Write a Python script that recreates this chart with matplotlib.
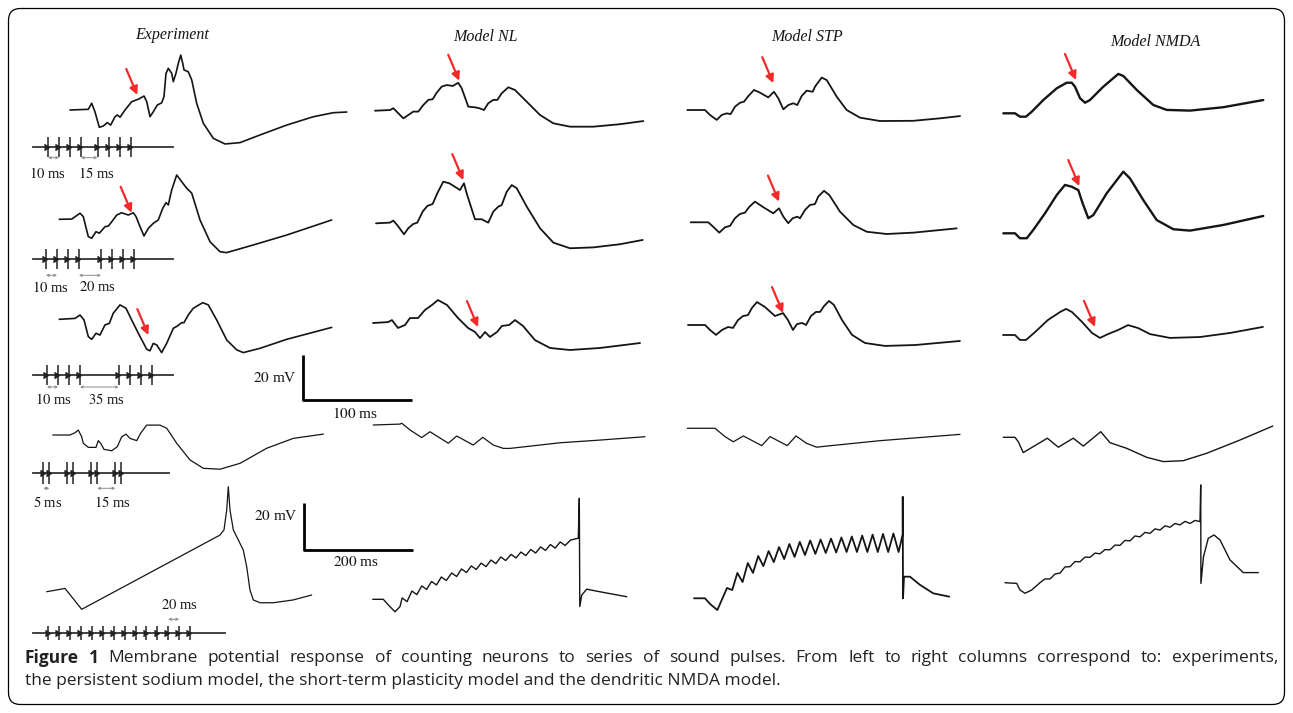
import matplotlib.pyplot as plt
from matplotlib.transforms import Affine2D
from matplotlib.patches import FancyBboxPatch

plt.rcParams['mathtext.fontset'] = 'stix'
plt.rcParams['font.family'] = ['Liberation Serif', 'DejaVu Serif']

# ---------------- data: membrane potential traces (t in ms, v in mV from rest) -------------

# Experiment column
EXP1_T = [0, 16.8, 19.9, 22.9, 26.9, 30.6, 34.2, 37.3, 41.3, 43.4, 45.9, 50.5, 56.6, 62.7, 67.9, 70.4,
          73.4, 76.4, 80.1, 84.1, 86.2, 88.1, 90.2, 93.3, 94.8, 97.2, 99.4, 101.6, 103.4, 104.6, 108.5,
          111.7, 116.2, 122.3, 131.5, 142.2, 156.0, 174.3, 198.8, 223.2, 241.6, 253.9]
EXP1_V = [0, 0.3, 3.0, -0.8, -7.7, -7.1, -5.6, -6.7, -3.0, -2.2, -3.2, 0, 3.7, 4.8, 6.2, 3.7,
          -3.0, -0.8, 2.2, 3.2, 5.9, 16.3, 18.5, 16.3, 12.6, 16.3, 20.8, 24.4, 20.8, 17.8, 17.0,
          13.3, 3.0, -5.9, -12.6, -15.1, -14.5, -11.1, -6.7, -3.0, -1.2, -0.9]

EXP2_T = [0, 11.4, 19.0, 22.0, 26.6, 29.7, 33.7, 36.7, 41.9, 45.0, 48.1, 52.7, 57.2, 63.3, 67.9, 70.4,
          73.4, 77.7, 81.7, 86.2, 90.8, 94.9, 97.9, 100.0, 103.1, 107.7, 112.3, 116.9, 121.5, 129.1,
          138.3, 147.4, 153.6, 178.0, 208.6, 249.9]
EXP2_V = [0, 0.1, 2.7, 1.2, -7.7, -8.4, -5.5, -6.2, -3.3, -3.0, -1.1, 1.9, 2.9, 1.9, 2.9, 1.2,
          -2.5, -7.4, -4.0, -1.8, -0.3, 4.9, 7.4, 6.4, 13.0, 19.7, 16.7, 13.8, 11.6, -0.3,
          -10.0, -14.4, -14.8, -11.4, -7.0, -0.3]

EXP3_T = [0, 14.4, 19.0, 22.7, 26.6, 29.7, 33.7, 37.3, 41.9, 45.9, 49.5, 55.7, 61.2, 66.4, 72.5, 80.2,
          83.2, 86.2, 89.4, 93.9, 98.5, 104.6, 108.3, 112.3, 114.4, 118.3, 122.9, 131.6, 136.7, 144.4,
          153.6, 162.8, 168.8, 184.1, 208.6, 249.9]
EXP3_V = [0, 0.4, 1.9, -0.3, -7.7, -8.9, -6.2, -7.0, -2.5, -1.8, 2.7, 6.4, 4.9, -0.3, -6.2, -13.3,
          -14.0, -10.7, -11.4, -14.8, -10.7, -4.0, -3.0, -1.5, -1.5, 1.9, 4.9, 7.4, 6.4, -0.3,
          -9.2, -13.6, -14.8, -12.9, -8.9, -3.6]

EXP4_T = [0, 15.9, 20.5, 23.5, 26.6, 28.1, 32.7, 39.7, 41.8, 44.0, 47.1, 54.1, 59.3, 63.3, 67.2, 70.9,
          77.1, 80.7, 86.2, 98.4, 104.6, 113.8, 126.0, 138.2, 153.5, 171.8, 196.3, 220.7, 248.3]
EXP4_V = [0, 0, 1.0, 2.2, -0.8, -3.7, -5.5, -5.5, -2.5, -3.7, -6.4, -7.0, -5.2, -0.8, 0.4, -1.5,
          -2.5, 0.8, 4.4, 4.4, 3.0, -3.7, -11.1, -14.8, -15.2, -12.6, -5.9, -1.5, 0.4]

EXP5_T = [0, 24.4, 33.6, 64.2, 318.0, 325.3, 330.3, 333.2, 336.3, 342.4, 351.6, 360.7, 367.0, 373.0,
          379.1, 391.4, 415.8, 452.5, 486.2]
EXP5_V = [0, 1.0, 1.4, -7.5, 24.1, 26.3, 34.8, 44.7, 34.8, 26.3, 22.0, 17.7, 10.6, 0.7,
          -3.5, -4.7, -4.7, -3.5, -1.4]

# Model NL column
NL1_T = [0, 13.8, 16.8, 19.9, 26.0, 30.6, 35.1, 39.7, 44.3, 48.9, 52.9, 56.6, 61.2, 65.8, 71.3, 76.4,
         79.5, 85.6, 91.7, 95.7, 100.0, 103.9, 108.5, 112.2, 116.2, 122.3, 128.4, 139.2, 151.4, 163.6,
         178.9, 200.3, 224.8, 246.2]
NL1_V = [0, 0.3, 1.1, -0.4, -3.4, -1.9, -0.4, -0.4, 2.5, 4.8, 5.1, 8.0, 10.7, 11.4, 11.0, 12.4,
         10.0, 1.8, 1.5, 1.1, 0.3, 3.3, 4.8, 4.8, 7.7, 10.4, 9.2, 4.0, -1.9, -5.6,
         -7.1, -7.1, -6.0, -4.6]

NL2_T = [0, 12.8, 15.9, 19.5, 25.7, 29.6, 34.2, 37.9, 42.8, 47.1, 52.0, 56.2, 61.7, 67.2, 77.1, 80.7,
         83.2, 90.8, 96.9, 103.0, 107.6, 112.2, 115.3, 119.9, 124.5, 129.1, 138.3, 150.5, 162.7, 178.0,
         199.4, 223.9, 244.7]
NL2_V = [0, 0.3, 1.2, -0.8, -4.9, -2.2, -0.3, 0.3, 5.2, 7.7, 8.6, 13.3, 18.5, 17.8, 14.8, 17.8,
         13.3, 1.8, 1.8, 0.3, 5.2, 7.4, 8.1, 14.0, 17.0, 15.6, 7.4, -2.2, -8.6, -11.1,
         -10.7, -9.3, -7.4]

NL3_T = [0, 13.8, 17.4, 22.9, 29.4, 33.9, 41.3, 47.7, 54.1, 59.6, 67.9, 78.0, 87.2, 93.6, 98.2, 102.8,
         107.3, 113.8, 118.3, 124.8, 130.3, 137.6, 148.6, 162.4, 180.7, 208.3, 245.0]
NL3_V = [0, 0.4, 1.3, -2.2, -0.9, 2.2, 2.2, 5.8, 8.0, 10.2, 8.0, 2.2, -2.2, -4.0, -6.7, -4.0,
         -6.2, -4.0, -1.3, -0.9, 1.3, -1.3, -7.6, -11.1, -12.0, -11.1, -8.9]

NL4_T = [0, 24.5, 26.1, 33.7, 44.4, 52.0, 68.8, 76.5, 91.7, 100.4, 110.1, 119.3, 125.4, 171.3, 208.0, 249.3]
NL4_V = [0, 0.4, 0.8, -2.2, -5.6, -3.0, -8.1, -4.9, -8.9, -5.5, -8.9, -10.4, -10.4, -7.9, -6.7, -5.2]

NL5_HEAD_T = [0, 19.4, 28.6, 40.9, 50.1]
NL5_HEAD_V = [0, 0, -2.4, -5.3, -3.1]
NL5_PEAK_T = [54, 72, 90, 108, 126, 145, 163, 181, 199, 217, 235, 254, 272, 290, 308, 326, 344, 363]
NL5_PEAK_V = [0.6, 3.5, 5.7, 7.6, 9.5, 11.2, 12.9, 14.2, 15.4, 16.7, 18.0, 19.1, 20.1, 21.2, 22.3,
              23.3, 24.4, 25.2]
NL5_TROUGH_T = [63, 81, 99, 117, 135, 154, 172, 190, 208, 226, 244, 263, 281, 299, 317, 335, 353]
NL5_TROUGH_V = [-1.0, 2.0, 4.2, 6.1, 8.0, 9.7, 11.4, 12.7, 13.9, 15.2, 16.5, 17.6, 18.6, 19.7, 20.8,
                21.8, 22.9]
NL5_TAIL_T = [377.2, 379.1, 380.0, 383.5, 392.7, 417.1, 466.1]
NL5_TAIL_V = [26.0, 43.0, -3.1, 1.8, 4.3, 3.2, 1.1]

# Model STP column
STP1_T = [0, 16.2, 20.8, 27.0, 31.6, 36.1, 39.8, 43.8, 48.3, 52.0, 56.0, 61.2, 66.7, 74.3, 79.5, 83.5,
          88.1, 92.7, 97.2, 100.9, 104.9, 109.5, 115.0, 117.2, 123.3, 127.9, 137.1, 146.2, 158.4, 176.8,
          207.3, 231.8, 250.2]
STP1_V = [0, 0, -2.2, -4.4, -2.2, -1.5, -1.8, 1.5, 3.2, 3.7, 6.2, 8.9, 7.7, 5.6, 8.1, 5.2,
          0.3, 2.2, 3.0, 2.2, 6.2, 8.6, 8.1, 10.4, 14.4, 13.3, 5.9, 0, -3.4, -4.9,
          -4.8, -3.7, -2.7]

STP2_T = [0, 16.1, 20.7, 26.2, 31.5, 36.1, 40.6, 45.2, 49.8, 53.8, 59.0, 66.6, 75.8, 81.0, 85.0, 89.5,
          93.6, 97.8, 100.3, 104.9, 109.4, 114.0, 117.0, 122.3, 127.2, 137.0, 149.2, 161.5, 179.8,
          204.2, 244.0]
STP2_V = [0, 0, -2.0, -4.6, -2.2, -1.6, 1.8, 3.7, 4.3, 6.9, 9.2, 6.7, 4.0, 6.2, 2.5, -0.4,
          1.8, 2.5, 1.8, 5.5, 7.7, 8.1, 11.4, 14.0, 12.1, 4.7, -1.2, -4.2, -5.2,
          -4.6, -2.7]

STP3_T = [0, 15.6, 20.2, 25.7, 31.2, 36.7, 41.3, 45.9, 50.5, 55.0, 58.7, 63.3, 70.6, 79.8, 87.2, 91.7,
          96.3, 100.0, 104.6, 108.3, 112.8, 117.4, 121.1, 124.8, 129.4, 133.9, 141.3, 150.5, 162.4,
          180.7, 208.3, 249.5]
STP3_V = [0, 0, -2.2, -4.4, -2.2, -0.9, -1.3, 2.2, 4.0, 4.4, 7.6, 10.2, 8.0, 4.0, 5.3, 2.2,
          -2.2, 0.4, 0.9, 0, 4.0, 5.8, 5.8, 8.4, 10.7, 8.9, 2.2, -4.4, -8.0,
          -9.3, -8.9, -7.1]

STP4_T = [0, 25.4, 34.6, 42.2, 51.4, 68.3, 75.9, 91.7, 99.7, 109.5, 118.7, 127.9, 176.8, 250.2]
STP4_V = [0, 0, -3.7, -6.0, -3.4, -7.7, -3.7, -7.7, -3.4, -6.7, -8.4, -7.9, -5.5, -2.7]

STP5_HEAD_T = [0, 20.2, 29.4, 42.8]
STP5_HEAD_V = [0, 0, -2.4, -5.0]
STP5_PEAK_T = [60.6, 79.6, 98.7, 117.8, 136.9, 156.0, 175.0, 194.1, 213.2, 232.3, 251.4, 270.5, 289.5,
               308.6, 327.7, 346.8, 365.9]
STP5_PEAK_V = [4.4, 10.8, 15.0, 18.0, 20.1, 21.8, 23.1, 24.0, 24.6, 25.0, 25.4, 25.9, 26.3, 26.7,
               27.1, 27.4, 27.6]
STP5_TROUGH_T = [70.1, 89.1, 108.2, 127.3, 146.4, 165.5, 184.5, 203.6, 222.7, 241.8, 260.9, 280.0,
                 299.0, 318.1, 337.2, 356.3, 375.4]
STP5_TROUGH_V = [3.5, 6.9, 10.8, 13.7, 15.4, 16.7, 17.6, 18.4, 18.9, 19.3, 19.5, 19.7, 19.7, 19.7,
                 19.7, 19.7, 19.7]
STP5_TAIL_T = [383.0, 383.0, 383.5, 385.3, 396.3, 414.7, 439.1, 468.4]
STP5_TAIL_V = [27.2, 43.2, 0, 9.2, 9.2, 5.7, 2.1, 0.7]

# Model NMDA column
NMDA1_T = [0, 10.7, 15.3, 20.8, 26.1, 36.7, 49.0, 58.2, 62.8, 65.8, 70.4, 75.0, 79.5, 91.7, 105.5,
           110.1, 122.4, 137.6, 149.9, 171.3, 201.8, 238.5]
NMDA1_V = [0, 0, -1.5, -1.5, 0.7, 5.9, 11.1, 13.6, 13.6, 11.8, 6.7, 4.7, 5.9, 11.8, 17.5,
           16.6, 10.4, 3.7, 1.5, 1.2, 2.7, 5.9]

NMDA2_T = [0, 10.7, 15.3, 21.5, 27.5, 38.3, 49.0, 56.6, 62.8, 68.8, 72.8, 78.0, 82.6, 94.9, 110.1,
           116.2, 128.4, 140.7, 156.0, 171.3, 201.8, 238.5]
NMDA2_V = [0, 0, -2.2, -2.2, 1.5, 8.9, 17.0, 21.5, 20.7, 19.2, 13.3, 6.7, 8.1, 17.8, 27.4,
           24.4, 14.8, 5.9, 1.8, 1.2, 3.7, 7.7]

NMDA3_T = [0, 11.0, 15.6, 21.1, 29.4, 41.3, 52.3, 57.8, 63.3, 72.5, 81.7, 89.0, 96.3, 105.5, 114.7,
           123.9, 134.9, 153.2, 180.7, 208.3, 238.5]
NMDA3_V = [0, 0, -2.2, -2.2, 1.3, 6.7, 10.2, 11.6, 10.2, 5.8, 0.9, -1.3, 0.4, 2.2, 4.4,
           3.1, 0.4, -1.3, -0.9, 0.9, 3.6]

NMDA4_T = [0, 10.7, 13.8, 18.3, 40.4, 50.5, 64.2, 73.4, 89.4, 97.9, 113.2, 131.6, 146.8, 165.1,
           186.6, 217.2, 247.2]
NMDA4_V = [0, 0, -2.0, -6.8, -0.4, -4.4, -0.4, -3.9, 2.5, -2.4, -4.9, -8.9, -10.8, -10.4,
           -7.1, -1.2, 5.0]

NMDA5_HEAD_T = [0, 21.5, 27.5, 36.7, 49.0, 64.2]
NMDA5_HEAD_V = [0, -0.3, -3.1, -4.5, -3.1, 0]
NMDA5_PEAK_T = [73.4, 91.7, 110.1, 128.4, 146.8, 165.1, 183.5, 201.8, 220.2, 238.5, 256.9, 275.2,
                293.6, 311.9, 330.3, 348.6]
NMDA5_PEAK_V = [1.6, 3.7, 6.7, 9.0, 10.9, 12.6, 14.1, 16.0, 18.0, 19.9, 21.4, 22.9, 24.2, 25.2,
                26.1, 26.5]
NMDA5_TROUGH_T = [82.6, 100.9, 119.3, 137.6, 156.0, 174.3, 192.7, 211.0, 229.4, 247.7, 266.1, 284.4,
                  302.8, 321.1, 339.5]
NMDA5_TROUGH_V = [1.6, 4.1, 6.8, 8.9, 10.8, 12.3, 14.0, 15.9, 17.8, 19.5, 21.0, 22.4, 23.6, 24.6, 25.2]
NMDA5_TAIL_T = [357.8, 359.1, 359.5, 364.2, 373.0, 383.5, 394.5, 412.8, 437.2, 464.8]
NMDA5_TAIL_V = [26.0, 41.6, -0.3, 11.1, 18.9, 20.3, 18.2, 9.7, 4.3, 4.3]

# sound pulse trains (ms)
STIM1 = [0, 10, 20, 30, 45, 55, 65, 75]
STIM2 = [0, 10, 20, 30, 50, 60, 70, 80]
STIM3 = [0, 10, 20, 30, 65, 75, 85, 95]
STIM4 = [0, 5, 20, 25, 40, 45, 60, 65]
STIM5 = [0, 20, 40, 60, 80, 100, 120, 140, 160, 180, 200, 220, 240, 260]

STIM_LABELS = [['10', '15'], ['10', '20'], ['10', '35'], ['5', '15'], ['20']]
STIM_PAIRS = [[(0, 1), (3, 4)], [(0, 1), (3, 4)], [(0, 1), (3, 4)], [(0, 1), (5, 6)], [(11, 12)]]

TITLES = ['Experiment', 'Model NL', 'Model STP', 'Model NMDA']

CAPTION_1 = ('Membrane potential response of counting neurons to series of sound pulses. '
             'From left to right columns correspond to: experiments,')
CAPTION_2 = 'the persistent sodium model, the short-term plasticity model and the dendritic NMDA model.'


def ramp(head_t, head_v, pk_t, pk_v, tr_t, tr_v, tail_t, tail_v):
    """ Join the rest part, the alternating peaks/troughs and the spike of a long-train trace. """
    t, v = list(head_t), list(head_v)
    for i in range(len(pk_t)):
        t.append(pk_t[i])
        v.append(pk_v[i])
        if i < len(tr_t):
            t.append(tr_t[i])
            v.append(tr_v[i])
    return t + list(tail_t), v + list(tail_v)


NL5_T, NL5_V = ramp(NL5_HEAD_T, NL5_HEAD_V, NL5_PEAK_T, NL5_PEAK_V, NL5_TROUGH_T, NL5_TROUGH_V,
                    NL5_TAIL_T, NL5_TAIL_V)
STP5_T, STP5_V = ramp(STP5_HEAD_T, STP5_HEAD_V, STP5_PEAK_T, STP5_PEAK_V, STP5_TROUGH_T,
                      STP5_TROUGH_V, STP5_TAIL_T, STP5_TAIL_V)
NMDA5_T, NMDA5_V = ramp(NMDA5_HEAD_T, NMDA5_HEAD_V, NMDA5_PEAK_T, NMDA5_PEAK_V, NMDA5_TROUGH_T,
                        NMDA5_TROUGH_V, NMDA5_TAIL_T, NMDA5_TAIL_V)

# ---------------- layout ----------------
W, H = 1293, 713
SHORT = (1.09, 2.25)     # px per ms, px per mV (rows 1-4)
LONG = (0.545, 2.35)     # row 5
RED = '#f42a2a'
INK = '#151515'

# (t, v, x0, y0, scale, lw, arrow tip in trace coords or None)
TRACES = [
    (EXP1_T, EXP1_V, 70, 110, SHORT, 1.2, (61.7, 6.7)),
    (EXP2_T, EXP2_V, 59.3, 219.3, SHORT, 1.2, (66.4, 2.9)),
    (EXP3_T, EXP3_V, 59.3, 319.3, SHORT, 1.2, (81.7, -7.0)),
    (EXP4_T, EXP4_V, 52.7, 435, SHORT, 0.9, None),
    (EXP5_T, EXP5_V, 46.7, 591.7, LONG, 0.9, None),
    (NL1_T, NL1_V, 375, 110.7, SHORT, 1.3, (77.3, 13.3)),
    (NL2_T, NL2_V, 376, 223.3, SHORT, 1.3, (80.1, 19.2)),
    (NL3_T, NL3_V, 373, 323, SHORT, 1.3, (96.3, -1.8)),
    (NL4_T, NL4_V, 373.3, 425, SHORT, 0.9, None),
    (NL5_T, NL5_V, 372.7, 599.3, LONG, 1.0, None),
    (STP1_T, STP1_V, 687.3, 110, SHORT, 1.3, (78.9, 11.9)),
    (STP2_T, STP2_V, 690.7, 222.3, SHORT, 1.3, (81.0, 9.2)),
    (STP3_T, STP3_V, 688, 325, SHORT, 1.3, (87.2, 5.3)),
    (STP4_T, STP4_V, 687.3, 428.3, SHORT, 0.9, None),
    (STP5_T, STP5_V, 694, 598.3, LONG, 1.3, None),
    (NMDA1_T, NMDA1_V, 1003.3, 113.3, SHORT, 1.7, (66.7, 14.8)),
    (NMDA2_T, NMDA2_V, 1003.3, 233.3, SHORT, 1.7, (69.7, 21.0)),
    (NMDA3_T, NMDA3_V, 1003, 335, SHORT, 1.3, (84.4, 3.6)),
    (NMDA4_T, NMDA4_V, 1003.3, 437.3, SHORT, 1.0, None),
    (NMDA5_T, NMDA5_V, 1005, 582.7, LONG, 1.0, None),
]

# stimulus rows: pulses, line x0, line x1, line y, first pulse x, px/ms, tick half height,
# arrow dy, label dy, label x positions
STIM_ROWS = [
    (STIM1, 32.7, 172.7, 146.7, 48.0, 1.1, 10, 11, 27, [47, 96]),
    (STIM2, 32.7, 172.7, 259.3, 46.0, 1.1, 10, 16, 28, [50.7, 97.3]),
    (STIM3, 32.7, 172.7, 375.0, 47.0, 1.1, 10, 12, 24, [53, 106.7]),
    (STIM4, 32.7, 169.3, 473.3, 43.3, 1.2, 11, 15, 29.4, [47.3, 112.7]),
    (STIM5, 32.7, 225.0, 633.3, 48.3, 0.545, 7, -14, -28, [179.3]),
]

fig = plt.figure(figsize=(W / 100, H / 100), dpi=100)
ax = fig.add_axes([0, 0, 1, 1])
ax.set_xlim(0, W)
ax.set_ylim(H, 0)
ax.axis('off')


def panel(x0, y0, scale):
    """ Transform from (ms, mV) of one trace to the page. """
    return Affine2D().scale(scale[0], -scale[1]).translate(x0, y0) + ax.transData


# Frame
ax.add_patch(FancyBboxPatch((8.5, 8.5), 1276, 696, boxstyle='round,pad=0,rounding_size=12',
                            fc='none', ec='black', lw=0.9))

# Column titles
for title, (tx, ty) in zip(TITLES, [(172, 35), (485, 37), (807, 37), (1155, 42)]):
    ax.text(tx, ty, title, fontsize=11.5, style='italic', ha='center', va='center', color=INK)

# Traces and red arrows
for t, v, x0, y0, scale, lw, tip in TRACES:
    tr = panel(x0, y0, scale)
    ax.plot(t, v, color=INK, lw=lw, transform=tr, solid_joinstyle='round', solid_capstyle='round')
    if tip is not None:
        ax.annotate('', xy=tip, xycoords=tr, xytext=(-11, 26), textcoords='offset pixels',
                    arrowprops=dict(arrowstyle='-|>', color=RED, lw=1.6, mutation_scale=12,
                                    shrinkA=0, shrinkB=0))

# Stimulus trains
for (pulses, lx0, lx1, ly, px0, pxs, hh, ady, ldy, lxs), labels, pairs in \
        zip(STIM_ROWS, STIM_LABELS, STIM_PAIRS):
    ax.plot([lx0, lx1], [ly, ly], color='#333333', lw=1.3)
    xs = [px0 + p * pxs for p in pulses]
    ax.vlines(xs, ly - hh, ly + hh, color='#222222', lw=1.1)
    ax.plot([x + 1.2 for x in xs], [ly] * len(xs), ls='none', marker=5, ms=4.5, color='#222222')
    for (i, j), lab, lx in zip(pairs, labels, lxs):
        ax.annotate('', xy=(xs[j], ly + ady), xytext=(xs[i], ly + ady),
                    arrowprops=dict(arrowstyle='<->', color='#8a8a8a', lw=0.7, mutation_scale=4,
                                    shrinkA=0, shrinkB=0))
        ax.text(lx, ly + ldy, r'$\mathit{%s}$ ms' % lab, fontsize=10.5, ha='center', va='center',
                color=INK)

# Scale bars
for (bx, by), scale, dur, lab_y, ms_y in [((303, 400), SHORT, 100, 378.3, 414),
                                         ((304, 550), LONG, 200, 516, 561.7)]:
    tr = panel(bx, by, scale)
    ax.plot([0, 0, dur], [20, 0, 0], color='black', lw=2.0, transform=tr, solid_capstyle='butt')
    ax.text(bx - 6, lab_y, r'$\mathit{20}$ mV', fontsize=11, ha='right', va='center', color=INK)
    ax.text(bx + 52, ms_y, r'$\mathit{%d}$ ms' % dur, fontsize=11, ha='center', va='center',
            color=INK)

# Caption, first line justified between the frame margins
cap_kw = dict(fontsize=12.5, family=['Open Sans', 'DejaVu Sans'], va='center', ha='left',
              color='#222222')
words = ['Figure', '1'] + CAPTION_1.split()
texts = []
for k, w in enumerate(words):
    texts.append(ax.text(0, 658, w, fontweight='bold' if k < 2 else 'normal', **cap_kw))
renderer = fig.canvas.get_renderer()
widths = [tx.get_window_extent(renderer).width for tx in texts]
gap = (1278 - 25 - sum(widths)) / (len(words) - 1)
x = 25
for tx, wd in zip(texts, widths):
    tx.set_x(x)
    x += wd + gap
ax.text(25, 681, CAPTION_2, **cap_kw)

fig.savefig('out.png', dpi=100)
